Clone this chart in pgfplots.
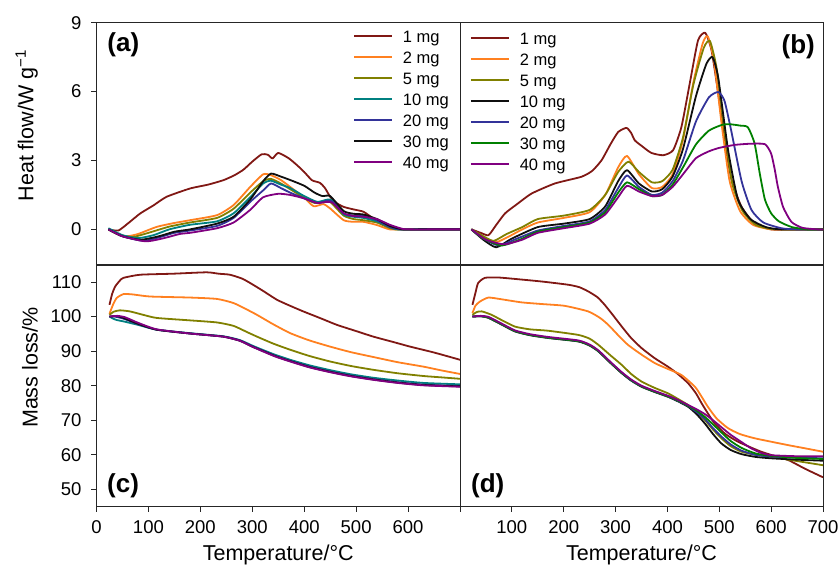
\documentclass[border=0pt]{standalone}
\usepackage{fontspec}
\setmainfont{Liberation Sans}
\usepackage{pgfplots}
\pgfplotsset{compat=1.18}
\definecolor{cA}{RGB}{128,24,20}
\definecolor{cB}{RGB}{255,128,32}
\definecolor{cC}{RGB}{128,128,0}
\definecolor{cD}{RGB}{0,128,128}
\definecolor{cE}{RGB}{51,51,153}
\definecolor{cF}{RGB}{15,15,15}
\definecolor{cG}{RGB}{0,128,0}
\definecolor{cH}{RGB}{128,0,128}
\newcommand{\tickfont}{\fontsize{18.5}{20}\selectfont}
\newcommand{\labfont}{\fontsize{21.5}{24}\selectfont}
\newcommand{\legfont}{\fontsize{16.5}{18}\selectfont}
\newcommand{\panfont}{\fontsize{26}{28}\selectfont\bfseries}
\pgfplotsset{
  panel/.style={
    scale only axis, width=363.5pt, xmin=0, xmax=700,
    axis line style={black!85, line width=0.9pt},
    every tick/.style={black!85, line width=0.9pt},
    tick align=outside, major tick length=5pt,
    tick pos=left,
    ticklabel style={font=\tickfont},
    yticklabel style={xshift=-6.5pt},
    xticklabel style={yshift=-5pt},
    /pgf/number format/assume math mode=true,
    every axis plot/.append style={line width=1.8pt, line join=round, mark=none, smooth, tension=0.35},
    legend cell align=left,
    legend style={draw=none, fill=none, font=\legfont, inner sep=0pt, outer sep=0pt,
      row sep=5.5pt, column sep=10pt, anchor=north west,
      nodes={inner sep=0pt, text height=12pt, text depth=3.5pt}},
    legend image code/.code={\draw[##1, line width=1.8pt, sharp plot] (0pt,2.3pt) -- (38pt,2.3pt);},
  },
  toppanel/.style={height=242.3pt, ymin=-1.55, ymax=9, ytick={0,3,6,9}, xtick=\empty},
  botpanel/.style={height=242pt, ymin=45, ymax=115, ytick={50,60,...,110}, xtick={0,100,...,700},
    xlabel={Temperature/°C},
    xlabel style={at={(axis description cs:0.5,0)}, anchor=north, yshift=-38pt, inner sep=0pt, font=\labfont}},
  ylab/.style={ylabel style={at={(axis description cs:-0.161,0.575)}, rotate=0, anchor=south, inner sep=0pt, font=\labfont}},
}
\begin{document}
\begin{tikzpicture}[x=1pt,y=1pt]
\useasboundingbox (0,0) rectangle (839,571);
% (a)
\begin{axis}[panel, toppanel, ylab, at={(96.5pt,306pt)}, anchor=south west,
  ylabel={Heat flow/W g\textsuperscript{−1}},
  legend style={at={(axis description cs:0.706,0.967)}}]
\addplot[cA] coordinates {(23,0)(42,-0.05)(60,0.25)(84,0.69)(110,1.05)(135,1.42)(180,1.78)(215,1.95)(244,2.14)(265,2.35)(283,2.6)(300,2.95)(318,3.27)(330,3.25)(339,3.09)(350,3.33)(370,3.1)(386,2.8)(400,2.5)(415,2.14)(430,2.03)(440,1.8)(450,1.42)(462,1.15)(476,0.98)(495,0.87)(514,0.77)(533,0.48)(550,0.28)(566,0.11)(591,0)(620,0)(700,0)};
\addplot[cB] coordinates {(23,0)(40,-0.2)(58,-0.3)(80,-0.2)(116,0.11)(150,0.28)(180,0.4)(232,0.62)(264,1.06)(296,1.85)(321,2.4)(336,2.36)(355,2.15)(373,1.85)(398,1.42)(418,1.01)(437,1.1)(450,0.91)(476,0.4)(495,0.33)(514,0.33)(540,0.19)(565,0)(600,0)(700,0)};
\addplot[cC] coordinates {(23,0)(45,-0.25)(70,-0.33)(100,-0.15)(140,0.12)(180,0.3)(232,0.5)(264,0.9)(296,1.6)(321,2.1)(336,2.2)(355,2.0)(373,1.75)(398,1.4)(420,1.15)(440,1.2)(450,1.2)(476,0.6)(495,0.45)(514,0.4)(540,0.3)(560,0.1)(575,0)(610,0)(700,0)};
\addplot[cD] coordinates {(23,0.05)(50,-0.25)(80,-0.38)(110,-0.25)(140,0)(180,0.2)(232,0.35)(264,0.7)(296,1.4)(321,2.0)(336,2.12)(355,1.95)(373,1.8)(400,1.45)(425,1.2)(445,1.3)(455,1.25)(476,0.65)(495,0.55)(514,0.5)(540,0.35)(565,0.1)(580,0)(610,0)(700,0)};
\addplot[cE] coordinates {(23,0)(50,-0.3)(90,-0.5)(120,-0.35)(150,-0.15)(180,-0.05)(232,0.15)(264,0.5)(296,1.2)(321,1.7)(336,2.0)(355,1.8)(373,1.6)(400,1.35)(425,1.15)(445,1.25)(455,1.2)(476,0.7)(495,0.6)(514,0.6)(540,0.4)(565,0.1)(585,0)(620,0)(700,0)};
\addplot[cF] coordinates {(23,0)(50,-0.3)(85,-0.45)(120,-0.3)(150,-0.1)(180,0.0)(232,0.25)(264,0.55)(296,1.3)(321,2.1)(336,2.43)(355,2.3)(373,2.15)(400,1.9)(420,1.6)(435,1.45)(450,1.45)(476,0.8)(495,0.68)(514,0.65)(540,0.45)(565,0.15)(590,0)(620,0)(700,0)};
\addplot[cH] coordinates {(23,0)(50,-0.3)(95,-0.52)(130,-0.38)(160,-0.2)(180,-0.15)(232,0.05)(264,0.3)(296,0.85)(321,1.4)(350,1.55)(373,1.5)(400,1.35)(425,1.15)(445,1.2)(455,1.15)(476,0.7)(495,0.58)(514,0.55)(540,0.45)(565,0.2)(590,0.02)(610,0)(640,0)(700,0)};
\legend{1 mg,2 mg,5 mg,10 mg,20 mg,30 mg,40 mg}
\node[anchor=west, font=\panfont, inner sep=0pt] at (rel axis cs:0.0297,0.908) {(a)};
\end{axis}
% (b)
\begin{axis}[panel, toppanel, ytick=\empty, width=363pt, at={(460pt,306pt)}, anchor=south west,
  legend style={at={(axis description cs:0.0275,0.960)}}]
\addplot[cA] coordinates {(22,0)(40,-0.15)(55,-0.25)(70,0.2)(87,0.7)(110,1.1)(138,1.56)(183,2.0)(234,2.29)(255,2.55)(273,3.01)(290,3.7)(305,4.24)(321,4.42)(330,4.2)(337,3.88)(350,3.64)(369,3.33)(392,3.23)(411,3.45)(427,4.46)(443,6.35)(459,8.23)(473,8.56)(485,7.8)(498,5.91)(511,3.74)(524,2.14)(543,0.98)(568,0.26)(600,0)(640,0)(700,0)};
\addplot[cB] coordinates {(22,0)(45,-0.35)(70,-0.55)(95,-0.3)(120,0)(150,0.3)(200,0.5)(250,0.75)(280,1.5)(305,2.7)(322,3.2)(345,2.4)(370,1.8)(390,1.85)(410,2.4)(430,3.9)(450,6.4)(468,8.1)(478,8.4)(490,7.3)(505,4.5)(520,2.1)(540,0.8)(565,0.2)(600,0)(640,0)(700,0)};
\addplot[cC] coordinates {(22,0)(45,-0.3)(65,-0.5)(90,-0.2)(120,0.1)(150,0.45)(200,0.6)(250,0.85)(280,1.5)(305,2.5)(325,2.95)(345,2.5)(370,2.05)(390,2.1)(410,2.6)(430,4.0)(450,6.3)(470,7.9)(482,8.2)(495,7.0)(510,4.3)(525,2.0)(545,0.8)(570,0.2)(600,0.02)(630,0)(700,0)};
\addplot[cF] coordinates {(22,0)(45,-0.45)(70,-0.78)(100,-0.4)(150,0.1)(200,0.25)(250,0.45)(280,1.0)(305,2.1)(322,2.58)(345,2.0)(370,1.65)(390,1.75)(410,2.3)(430,3.5)(455,5.8)(475,7.2)(487,7.5)(498,6.6)(517,3.45)(536,1.3)(560,0.45)(590,0.1)(620,0)(700,0)};
\addplot[cE] coordinates {(22,0)(45,-0.4)(75,-0.7)(110,-0.4)(150,-0.05)(200,0.15)(250,0.35)(280,0.85)(305,1.8)(322,2.35)(345,1.85)(370,1.5)(390,1.6)(410,2.1)(430,3.0)(455,4.7)(480,5.75)(498,5.98)(510,5.6)(523,4.3)(543,2.1)(562,0.85)(585,0.3)(620,0.05)(650,0)(700,0)};
\addplot[cG] coordinates {(22,0)(45,-0.4)(80,-0.7)(115,-0.45)(150,-0.1)(200,0.1)(250,0.3)(280,0.75)(305,1.6)(322,2.05)(345,1.75)(370,1.45)(390,1.5)(410,1.95)(430,2.7)(455,3.7)(480,4.3)(505,4.55)(520,4.58)(540,4.52)(555,4.45)(568,3.75)(578,2.44)(588,1.3)(600,0.7)(615,0.35)(640,0.1)(670,0)(700,0)};
\addplot[cH] coordinates {(22,0)(50,-0.45)(85,-0.65)(120,-0.45)(150,-0.15)(200,0.05)(250,0.25)(280,0.65)(305,1.4)(322,1.9)(345,1.65)(370,1.45)(390,1.5)(410,1.85)(430,2.4)(455,3.1)(480,3.4)(500,3.55)(530,3.68)(560,3.73)(588,3.71)(600,3.3)(607,2.6)(613,1.85)(623,0.98)(639,0.33)(660,0.07)(690,0)(700,0)};
\legend{1 mg,2 mg,5 mg,10 mg,20 mg,30 mg,40 mg}
\node[anchor=east, font=\panfont, inner sep=0pt] at (rel axis cs:0.978,0.90) {(b)};
\end{axis}
% (c)
\begin{axis}[panel, botpanel, ylab, at={(96.5pt,64.3pt)}, anchor=south west,
  ylabel={Mass loss/\%}, xticklabels={0,100,200,300,400,500,600,{}}]
\addplot[cA] coordinates {(25,103.4)(30,106.5)(36,108.7)(45,110.4)(52,111.2)(84,112.1)(148,112.4)(212,112.8)(235,112.4)(257,112.1)(280,111.0)(296,109.7)(320,107.5)(347,104.9)(370,103.3)(398,101.5)(430,99.6)(463,97.6)(500,95.8)(533,94.2)(570,92.7)(604,91.3)(650,89.6)(700,87.5)};
\addplot[cB] coordinates {(25,100.8)(32,103.5)(39,105.4)(52,106.5)(70,106.4)(103,105.8)(180,105.5)(232,105.1)(264,103.9)(290,102.0)(309,100.5)(340,97.8)(373,95.2)(410,93.1)(450,91.3)(490,89.7)(533,88.3)(580,86.8)(630,85.5)(665,84.4)(700,83.4)};
\addplot[cC] coordinates {(25,100.5)(33,101.4)(45,101.8)(64,101.5)(90,100.5)(116,99.6)(180,98.9)(232,98.3)(264,97.3)(290,95.5)(309,94.2)(340,92.2)(373,90.4)(410,88.6)(450,87.0)(490,85.7)(533,84.6)(580,83.6)(630,82.8)(665,82.4)(700,82.0)};
\addplot[cD] coordinates {(25,100)(32,99.4)(39,99.0)(52,98.6)(80,97.6)(116,96.2)(180,95.2)(244,94.3)(276,93.2)(300,91.6)(321,90.3)(345,88.9)(373,87.5)(410,85.9)(450,84.5)(490,83.3)(533,82.3)(580,81.5)(630,80.8)(700,80.4)};
\addplot[cE] coordinates {(25,100)(35,100)(52,99.4)(80,97.8)(116,96.2)(180,95.1)(244,94.2)(276,93.1)(300,91.4)(321,90.1)(345,88.6)(373,87.2)(410,85.5)(450,84.1)(490,82.9)(533,81.9)(580,81.0)(630,80.3)(700,79.9)};
\addplot[cF] coordinates {(25,100)(40,100.1)(52,99.6)(80,97.9)(116,96.2)(180,95.1)(244,94.2)(276,93.0)(300,91.3)(321,90.0)(345,88.5)(373,87.1)(410,85.4)(450,84.0)(490,82.8)(533,81.8)(580,80.9)(630,80.2)(700,79.8)};
\addplot[cH] coordinates {(25,100)(40,100.2)(55,99.8)(80,98.2)(116,96.3)(180,95.1)(244,94.2)(276,93.0)(300,91.3)(321,89.9)(345,88.4)(373,87.0)(410,85.3)(450,83.9)(490,82.7)(533,81.7)(580,80.8)(630,80.1)(700,79.7)};
\node[anchor=west, font=\panfont, inner sep=0pt] at (rel axis cs:0.029,0.086) {(c)};
\end{axis}
% (d)
\begin{axis}[panel, botpanel, ytick=\empty, width=363pt, at={(460pt,64.3pt)}, anchor=south west,
  xticklabels={{},100,200,300,400,500,600,700}]
\addplot[cA] coordinates {(24,103.4)(30,107)(35,109.7)(48,111.2)(74,111.3)(119,110.7)(160,110.1)(209,109.2)(230,108.5)(247,107.3)(265,105.6)(279,103.4)(295,100.4)(312,97.1)(330,93.8)(350,90.9)(375,88.0)(401,85.5)(420,83.4)(440,80.7)(455,77.8)(466,74.9)(478,72.0)(491,69.1)(512,66.0)(536,63.8)(560,62.2)(581,60.9)(610,59.5)(633,58.5)(665,56.0)(700,53.5)};
\addplot[cB] coordinates {(24,101)(30,103.2)(39,104.4)(55,105.5)(80,105.0)(119,104.1)(160,103.6)(202,103.1)(247,101.5)(270,99.6)(286,97.6)(305,94.6)(324,91.8)(350,89.0)(376,86.5)(400,84.9)(427,83.1)(453,79.7)(466,76.8)(478,73.9)(495,70.5)(517,67.7)(540,66.0)(568,64.8)(600,63.8)(633,62.8)(665,61.9)(700,60.9)};
\addplot[cC] coordinates {(24,100.5)(32,101.3)(42,101.5)(61,100.5)(80,99.0)(106,97.1)(135,96.3)(170,95.9)(228,94.7)(250,93.6)(267,91.8)(290,88.8)(312,86.0)(330,83.4)(350,81.2)(375,79.4)(401,77.8)(420,76.2)(440,74.4)(456,72.4)(472,70.1)(488,67.3)(504,64.8)(522,62.5)(543,60.9)(570,60.0)(600,59.4)(650,58.2)(700,57.0)};
\addplot[cF] coordinates {(24,100)(40,100.1)(55,99.6)(80,97.7)(106,95.7)(135,94.6)(170,93.8)(228,92.8)(250,91.6)(267,89.9)(290,86.6)(312,83.6)(330,81.5)(350,79.7)(375,78.2)(401,76.8)(420,75.5)(440,73.9)(456,71.8)(472,69.1)(488,66.0)(504,63.3)(522,61.4)(543,60.2)(570,59.4)(600,59.0)(650,58.6)(700,58.3)};
\addplot[cE] coordinates {(24,100)(40,100.1)(55,99.7)(80,97.8)(106,95.8)(135,94.7)(170,93.9)(228,92.9)(250,91.7)(267,90.0)(290,86.7)(312,83.7)(330,81.5)(350,79.8)(375,78.3)(401,76.9)(420,75.6)(440,74.1)(456,72.4)(472,70.4)(488,67.7)(504,65.3)(522,63.0)(543,61.2)(570,60.0)(600,59.5)(650,59.2)(700,59.0)};
\addplot[cG] coordinates {(24,100)(40,100.1)(55,99.7)(80,97.8)(106,95.8)(135,94.7)(170,93.9)(228,92.9)(250,91.7)(267,90.0)(290,86.7)(312,83.7)(330,81.6)(350,79.8)(375,78.3)(401,76.9)(420,75.7)(440,74.2)(456,72.8)(472,71.0)(488,68.8)(504,66.5)(522,64.0)(543,62.0)(570,60.4)(600,59.7)(650,59.1)(700,58.8)};
\addplot[cH] coordinates {(24,100)(40,100.2)(55,99.9)(80,98.0)(106,96.0)(135,94.9)(170,94.1)(228,93.1)(250,91.9)(267,90.2)(290,86.9)(312,83.9)(330,81.8)(350,80.0)(375,78.5)(401,77.1)(420,75.9)(440,74.4)(456,73.2)(472,71.8)(488,70.0)(504,68.0)(522,65.8)(543,63.7)(560,62.0)(580,60.6)(600,59.9)(650,59.6)(700,59.6)};
\node[anchor=west, font=\panfont, inner sep=0pt] at (rel axis cs:0.030,0.086) {(d)};
\end{axis}
\end{tikzpicture}
\end{document}
